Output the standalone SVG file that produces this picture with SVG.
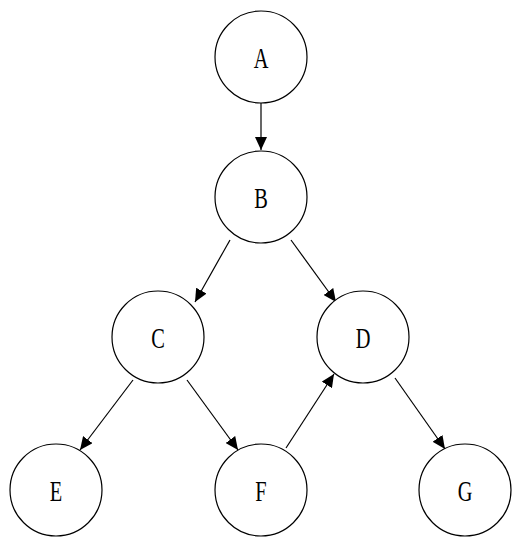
<svg xmlns="http://www.w3.org/2000/svg" width="522" height="550" viewBox="0 0 522 550">
<style>
.n circle{fill:#fff;stroke:#000;stroke-width:1.2}
.n text{font-family:"Liberation Serif",serif;font-size:30px;fill:#000;text-anchor:middle}
.e line{stroke:#000;stroke-width:1.2;marker-end:url(#ah)}
</style>
<defs>
<marker id="ah" markerUnits="userSpaceOnUse" markerWidth="14" markerHeight="12" viewBox="0 0 14 12" refX="13" refY="6" orient="auto">
<path d="M0,0 L13,6 L0,12 Z" fill="#000"/>
</marker>
</defs>
<rect width="522" height="550" fill="#fff"/>
<g id="connectors" class="e">
<line x1="261" y1="103" x2="261" y2="150"/>
<line x1="230" y1="240" x2="195" y2="302"/>
<line x1="291" y1="240" x2="336" y2="302"/>
<line x1="133" y1="380" x2="80" y2="450"/>
<line x1="187" y1="380" x2="238" y2="450"/>
<line x1="286" y1="448" x2="334" y2="374"/>
<line x1="395" y1="378" x2="445" y2="449"/>
</g>
<g id="A" class="n"><circle cx="261" cy="57" r="46"/><text transform="translate(261,68) scale(0.68,1)">A</text></g>
<g id="B" class="n"><circle cx="261" cy="197" r="46"/><text transform="translate(261,208) scale(0.68,1)">B</text></g>
<g id="C" class="n"><circle cx="158" cy="337" r="46"/><text transform="translate(158,348) scale(0.68,1)">C</text></g>
<g id="D" class="n"><circle cx="363" cy="337" r="46"/><text transform="translate(363,348) scale(0.68,1)">D</text></g>
<g id="E" class="n"><circle cx="56" cy="490" r="46"/><text transform="translate(56,501) scale(0.68,1)">E</text></g>
<g id="F" class="n"><circle cx="261" cy="490" r="46"/><text transform="translate(261,501) scale(0.68,1)">F</text></g>
<g id="G" class="n"><circle cx="465" cy="490" r="46"/><text transform="translate(465,501) scale(0.68,1)">G</text></g>
</svg>
